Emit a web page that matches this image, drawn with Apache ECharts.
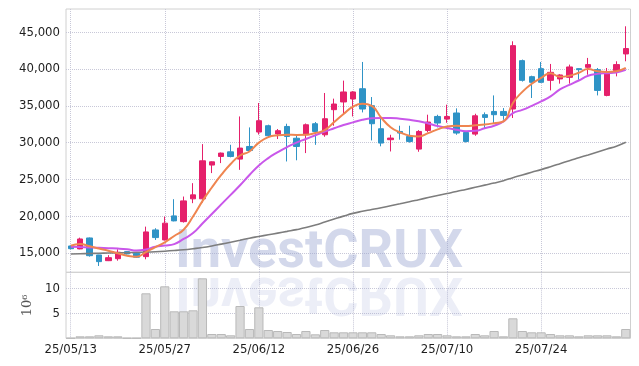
<!DOCTYPE html>
<html>
<head>
<meta charset="utf-8">
<script src="https://cdn.jsdelivr.net/npm/echarts@6.0.0/dist/echarts.min.js"></script>
<style>
  html, body { margin: 0; padding: 0; background: #fff; }
  #chart { width: 639px; height: 366px; }
</style>
</head>
<body>
<div id="chart"></div>
<script>
// trading days, YY/MM/DD
const dates = [
  '25/05/13','25/05/14','25/05/15','25/05/16','25/05/19','25/05/20','25/05/21','25/05/22','25/05/23','25/05/26',
  '25/05/27','25/05/28','25/05/29','25/05/30','25/06/02','25/06/04','25/06/05','25/06/09','25/06/10','25/06/11',
  '25/06/12','25/06/13','25/06/16','25/06/17','25/06/18','25/06/19','25/06/20','25/06/23','25/06/24','25/06/25',
  '25/06/26','25/06/27','25/06/30','25/07/01','25/07/02','25/07/03','25/07/04','25/07/07','25/07/08','25/07/09',
  '25/07/10','25/07/11','25/07/14','25/07/15','25/07/16','25/07/17','25/07/18','25/07/21','25/07/22','25/07/23',
  '25/07/24','25/07/25','25/07/28','25/07/29','25/07/30','25/07/31','25/08/01','25/08/04','25/08/05','25/08/06'
];
const tickDates = ['25/05/13', '25/05/27', '25/06/12', '25/06/26', '25/07/10', '25/07/24'];

const opens = [
  15950, 15550, 17040, 14730, 13950, 14220, 15180, 14950, 14500, 18130,
  16770, 20040, 19260, 22360, 22360, 26950, 28120, 28750, 27760, 29480,
  31440, 32300, 31180, 32200, 30600, 31070, 32570, 31070, 34480, 35530,
  35935, 37330, 35020, 31890, 30400, 31520, 30840, 29120, 31660, 33560,
  33200, 34030, 31380, 31160, 33800, 34240, 34240, 34570, 41150, 38970,
  40060, 38470, 38660, 38880, 40060, 40240, 39920, 36420, 39790, 42060
];
const closes = [
  15580, 16900, 14630, 13820, 14360, 15100, 14870, 14420, 17860, 17090,
  19050, 19360, 22080, 22900, 27530, 27390, 28580, 28120, 29260, 28930,
  32980, 30940, 31620, 30840, 29480, 32430, 31520, 33250, 35250, 36890,
  36890, 34570, 32570, 29940, 30620, 31300, 30160, 31520, 32800, 32660,
  33560, 31300, 30160, 33650, 33430, 33800, 33700, 43190, 38470, 38200,
  38200, 39560, 39200, 40290, 39920, 40610, 37100, 39470, 40610, 42790
];
const lows = [
  15500, 15500, 14500, 13230, 13900, 13950, 14800, 14330, 14140, 16770,
  16700, 19300, 19130, 21770, 21850, 25860, 27220, 28000, 26300, 28800,
  31100, 30660, 30490, 27440, 27600, 28580, 29700, 30800, 32300, 34030,
  33560, 34110, 30300, 29500, 28800, 30400, 30000, 28760, 31400, 32070,
  32700, 31070, 30020, 30930, 31980, 32660, 33110, 33350, 38300, 36070,
  38100, 37100, 38020, 38020, 38560, 39240, 36420, 36300, 39010, 41060
];
const highs = [
  16000, 17080, 17100, 14750, 14700, 15500, 15250, 15000, 18580, 18360,
  19940, 22310, 22670, 24490, 29800, 27450, 28650, 29710, 33560, 32070,
  35390, 32440, 31850, 32570, 31000, 32600, 32800, 36750, 35980, 38430,
  37000, 40970, 36200, 33560, 31070, 32300, 32300, 31700, 33800, 33790,
  35160, 34660, 31600, 33930, 34110, 36420, 34700, 43780, 41290, 39100,
  40970, 40700, 39300, 40610, 40100, 41520, 40150, 40150, 41060, 45820
];

const ma5 = [
  15990, 16230, 15900, 15600, 15310, 14950, 14630, 14500, 15120, 15800,
  16450, 17300, 18150, 19950, 22050, 23900, 25600, 27100, 28250, 28800,
  30000, 30750, 31000, 31070, 31050, 31070, 31300, 31700, 32800, 33900,
  34900, 35300, 35000, 33400, 32100, 31400, 30950, 30840, 31300, 31800,
  32200, 32300, 32250, 32350, 32450, 32650, 32900, 35400, 36900, 38000,
  38800, 39450, 38950, 39100, 39500, 40000, 39700, 39600, 39700, 40150
];
const ma20 = [
  15860, 15800, 15750, 15700, 15650, 15600, 15500, 15330, 15480, 15850,
  16000, 16200, 16900, 17700, 19000, 20300, 21600, 22900, 24200, 25600,
  26900, 27900, 28700, 29400, 30000, 30500, 31000, 31500, 31950, 32400,
  32750, 33100, 33300, 33350, 33350, 33250, 33100, 32900, 32600, 32250,
  31980, 31750, 31550, 31600, 31950, 32300, 32880, 34000, 34450, 35000,
  35600, 36300, 37250, 37850, 38450, 39100, 39350, 39450, 39550, 39900
];
const ma120 = [
  14865, 14900, 14930, 14960, 14990, 15020, 15050, 15090, 15120, 15170,
  15240, 15330, 15440, 15580, 15740, 15950, 16200, 16460, 16730, 17010,
  17240, 17470, 17700, 17930, 18170, 18450, 18800, 19200, 19610, 20010,
  20380, 20660, 20900, 21150, 21420, 21680, 21950, 22240, 22530, 22810,
  23080, 23350, 23640, 23930, 24220, 24500, 24830, 25230, 25600, 25970,
  26330, 26720, 27130, 27550, 27940, 28330, 28730, 29130, 29520, 30050
];

// volume in millions of shares
const volumes = [
  0.05, 0.4, 0.4, 0.6, 0.4, 0.4, 0.05, 0.05, 9.0, 1.86,
  10.4, 5.4, 5.4, 5.6, 12.0, 0.86, 0.86, 0.6, 6.46, 1.86,
  6.2, 1.66, 1.46, 1.26, 0.86, 1.46, 0.8, 1.66, 1.2, 1.2,
  1.2, 1.2, 1.2, 0.86, 0.6, 0.4, 0.4, 0.6, 0.86, 0.86,
  0.6, 0.4, 0.4, 0.86, 0.6, 1.46, 0.4, 4.0, 1.46, 1.2,
  1.2, 0.86, 0.6, 0.6, 0.4, 0.6, 0.6, 0.6, 0.4, 1.86
];

const chart = echarts.init(document.getElementById('chart'));

const candles = dates.map((d, i) => [opens[i], closes[i], lows[i], highs[i]]);
const showDate = (i, v) => tickDates.indexOf(v) >= 0;

const dotted = { type: 'dotted', color: '#c8c8d8', width: 1 };
const hLines = { show: true, showMinLine: false, showMaxLine: false, lineStyle: dotted };
const vLines = { show: true, interval: showDate, alignWithLabel: true, lineStyle: dotted };
const labelFont = { fontFamily: 'DejaVu Sans Condensed', fontSize: 13, color: '#1e1e1e' };

const option = {
  animation: false,
  grid: [
    { left: 66, right: 8.5, top: 9, height: 263.3, show: true, borderColor: '#d0d0d0', borderWidth: 1 },
    { left: 66, right: 8.5, top: 272.3, height: 66, show: true, borderColor: '#d0d0d0', borderWidth: 1 }
  ],
  xAxis: [
    {
      type: 'category', data: dates, gridIndex: 0,
      axisLine: { show: false }, axisTick: { show: false }, axisLabel: { show: false },
      splitLine: vLines
    },
    {
      type: 'category', data: dates, gridIndex: 1,
      axisLine: { show: false }, axisTick: { show: false },
      axisLabel: Object.assign({ interval: showDate, margin: 5 }, labelFont),
      splitLine: vLines
    }
  ],
  yAxis: [
    {
      type: 'value', gridIndex: 0, min: 12370, max: 48170, splitNumber: 7,
      axisLine: { show: false }, axisTick: { show: false },
      axisLabel: Object.assign({
        margin: 6, showMinLabel: false, showMaxLabel: false,
        formatter: v => String(v).replace(/\B(?=(\d{3})+(?!\d))/g, ',')
      }, labelFont),
      splitLine: hLines
    },
    {
      type: 'value', gridIndex: 1, min: 0, max: 13.2, splitNumber: 3,
      name: '10\u2076', nameLocation: 'middle', nameRotate: 90, nameGap: 30,
      nameTextStyle: { fontFamily: 'DejaVu Serif', fontSize: 13, color: '#555' },
      axisLine: { show: false }, axisTick: { show: false },
      axisLabel: Object.assign({ margin: 6, showMinLabel: false, showMaxLabel: false }, labelFont),
      splitLine: hLines
    }
  ],
  graphic: [
    {
      type: 'text', x: 319, y: 253, z: 1, silent: true,
      style: { text: 'InvestCRUX', font: 'bold 54px Roboto', fill: 'rgba(150,163,208,0.42)', align: 'center', verticalAlign: 'middle' }
    },
    {
      type: 'text', x: 319, y: 272.3, scaleY: -1, z: 1, silent: true,
      style: { text: 'InvestCRUX', x: 0, y: 253 - 272.3, font: 'bold 54px Roboto', fill: 'rgba(150,163,208,0.18)', align: 'center', verticalAlign: 'middle' }
    }
  ],
  series: [
    {
      name: 'price', type: 'candlestick', xAxisIndex: 0, yAxisIndex: 0,
      data: candles, barWidth: '62%',
      itemStyle: { color: '#e5206b', color0: '#2f93c6', borderColor: '#e5206b', borderColor0: '#2f93c6', borderWidth: 1 }
    },
    {
      name: 'MA120', type: 'line', xAxisIndex: 0, yAxisIndex: 0, data: ma120,
      showSymbol: false, smooth: true, lineStyle: { color: '#7d7d7d', width: 1.6 }
    },
    {
      name: 'MA20', type: 'line', xAxisIndex: 0, yAxisIndex: 0, data: ma20,
      showSymbol: false, smooth: true, lineStyle: { color: '#c957ea', width: 2 }
    },
    {
      name: 'MA5', type: 'line', xAxisIndex: 0, yAxisIndex: 0, data: ma5,
      showSymbol: false, smooth: true, lineStyle: { color: '#ef8550', width: 2 }
    },
    {
      name: 'volume', type: 'bar', xAxisIndex: 1, yAxisIndex: 1, data: volumes,
      barCategoryGap: '2%',
      itemStyle: { color: '#d9d9d9', borderColor: '#b9b9b9', borderWidth: 1 }
    }
  ]
};

chart.setOption(option);
</script>
</body>
</html>
